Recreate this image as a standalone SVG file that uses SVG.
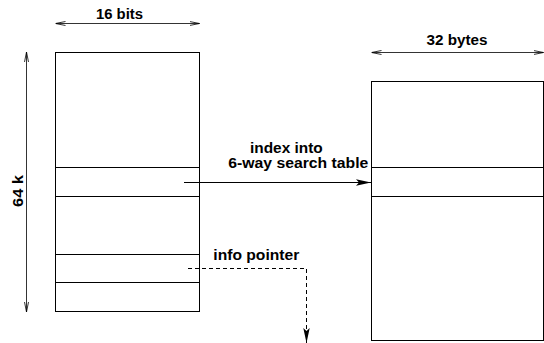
<svg xmlns="http://www.w3.org/2000/svg" width="544" height="343" viewBox="0 0 544 343">
<style>
.box{fill:none;stroke:#000;stroke-width:1}
.sep{stroke:#000;stroke-width:1}
.dim{stroke:#000;stroke-width:0.8;fill:none}
.lbl{font-family:"Liberation Sans",Arial,sans-serif;font-weight:bold;font-size:14.5px;fill:#000}
</style>
<defs>
<marker id="dimhead" viewBox="0 0 10 6" refX="10" refY="3" markerWidth="10" markerHeight="6" markerUnits="userSpaceOnUse" orient="auto-start-reverse">
<path d="M0,1 L10,3 L0,5" fill="none" stroke="#000" stroke-width="0.8"/>
</marker>
<marker id="fillhead" viewBox="0 0 15 8" refX="15" refY="4" markerWidth="15" markerHeight="8" markerUnits="userSpaceOnUse" orient="auto">
<path d="M0,0.8 L15,4 L0,7.2 L3,4 Z" fill="#000"/>
</marker>
</defs>
<rect fill="#fff" width="544" height="343"/>
<g id="table16">
<rect class="box" x="55.5" y="52.5" width="144" height="259"/>
<line class="sep" x1="55.5" y1="167.5" x2="199.5" y2="167.5"/>
<line class="sep" x1="55.5" y1="196.5" x2="199.5" y2="196.5"/>
<line class="sep" x1="55.5" y1="254.5" x2="199.5" y2="254.5"/>
<line class="sep" x1="55.5" y1="282.5" x2="199.5" y2="282.5"/>
</g>
<g id="table32">
<rect class="box" x="371.5" y="81.5" width="172" height="259"/>
<line class="sep" x1="371.5" y1="167.5" x2="543.5" y2="167.5"/>
<line class="sep" x1="371.5" y1="196.5" x2="543.5" y2="196.5"/>
</g>
<g id="dimensions">
<line class="dim" x1="55.5" y1="23.5" x2="199.5" y2="23.5" marker-start="url(#dimhead)" marker-end="url(#dimhead)"/>
<text class="lbl" x="119.5" y="18.5" text-anchor="middle" textLength="47" lengthAdjust="spacingAndGlyphs">16 bits</text>
<line class="dim" x1="371.5" y1="52.5" x2="543.5" y2="52.5" marker-start="url(#dimhead)" marker-end="url(#dimhead)"/>
<text class="lbl" x="457" y="45" text-anchor="middle" textLength="61" lengthAdjust="spacingAndGlyphs">32 bytes</text>
<line class="dim" x1="26.5" y1="52" x2="26.5" y2="312" marker-start="url(#dimhead)" marker-end="url(#dimhead)"/>
<text class="lbl" transform="translate(22.5,191) rotate(-90)" text-anchor="middle" textLength="32" lengthAdjust="spacingAndGlyphs">64 k</text>
</g>
<g id="connectors">
<line x1="184" y1="182.5" x2="371" y2="182.5" stroke="#000" stroke-width="1" marker-end="url(#fillhead)"/>
<polyline points="188,268.5 306.5,268.5 306.5,343" fill="none" stroke="#000" stroke-width="1" stroke-dasharray="4,3" marker-end="url(#fillhead)"/>
</g>
<g id="labels">
<text class="lbl" x="250" y="153" textLength="72.7" lengthAdjust="spacingAndGlyphs">index into</text>
<text class="lbl" x="228.3" y="168" textLength="140" lengthAdjust="spacingAndGlyphs">6-way search table</text>
<text class="lbl" x="213.3" y="260" textLength="86" lengthAdjust="spacingAndGlyphs">info pointer</text>
</g>
</svg>
